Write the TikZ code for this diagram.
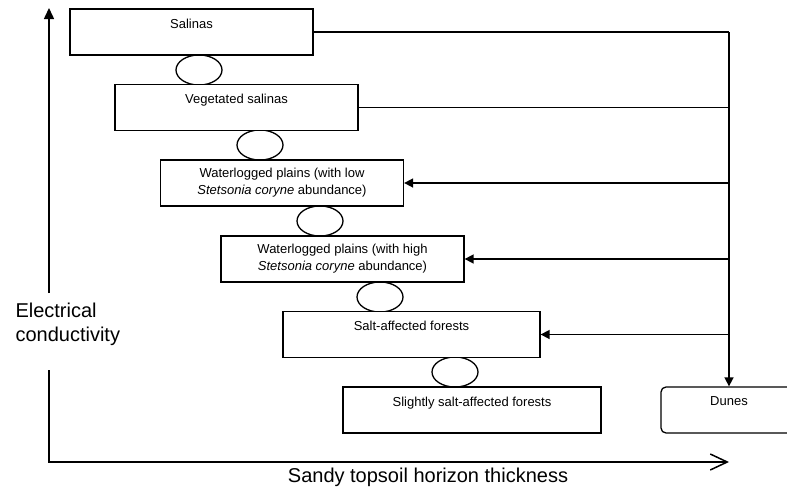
\documentclass[tikz,border=0pt]{standalone}
\usepackage{fontspec}
\setmainfont{Liberation Sans}
\usetikzlibrary{shapes.geometric, arrows.meta, positioning}

\begin{document}
\begin{tikzpicture}[
    x=1pt, y=-1pt,
    unit/.style={rectangle, draw, fill=white, line width=1.3pt, minimum width=243pt, minimum height=46pt, align=center, inner sep=0pt, font=\fontsize{13}{17}\selectfont},
    transit/.style={ellipse, draw, line width=1.3pt, minimum width=46pt, minimum height=30pt, inner sep=0pt},
    link/.style={line width=1.6pt},
    arrow/.style={-{Triangle[length=9pt, width=9pt]}, line width=1.6pt},
    axis/.style={line width=1.5pt},
    axislabel/.style={align=left, font=\fontsize{20}{24}\selectfont}
]
    \useasboundingbox (0,0) rectangle (787,490);
    \clip (0,0) rectangle (787,490);

    % transitions between neighbouring units
    \node[transit] (t1) at (199,70) {};
    \node[transit] (t2) at (260,145) {};
    \node[transit] (t3) at (320,221) {};
    \node[transit] (t4) at (380,297) {};
    \node[transit] (t5) at (455,372) {};

    % landscape units
    \node[unit] (sal) at (191.5,32) {Salinas\\~};
    \node[unit] (veg) at (236.5,107.5) {Vegetated salinas\\~};
    \node[unit] (wlow) at (282,183) {Waterlogged plains (with low\\\textit{Stetsonia coryne} abundance)};
    \node[unit] (whigh) at (342.5,259) {Waterlogged plains (with high\\\textit{Stetsonia coryne} abundance)};
    \node[unit, minimum width=257pt] (saf) at (411.5,334.5) {Salt-affected forests\\~};
    \node[unit, minimum width=258pt] (slight) at (472,410) {Slightly salt-affected forests\\~};
    \node[unit, rounded corners=5pt, minimum width=136pt] (dunes) at (729,410) {Dunes\\~};

    % sand input
    \coordinate (trunk) at (729,32);
    \draw[link] (sal.east) -- (trunk);
    \draw[link] (veg.east) -- (veg.east -| trunk);
    \draw[arrow] (trunk) -- (dunes.north);
    \draw[arrow] (wlow.east -| trunk) -- (wlow.east);
    \draw[arrow] (whigh.east -| trunk) -- (whigh.east);
    \draw[arrow] (saf.east -| trunk) -- (saf.east);

    % axes
    \coordinate (origin) at (49,462);
    \coordinate (ytop) at (49,8);
    \coordinate (xend) at (729,462);
    \draw[axis, -{Triangle[length=11pt, width=10pt]}] (49,293) -- (ytop);
    \draw[axis, -{Straight Barb[length=17pt, width=16pt]}] (49,370) -- (origin) -- (xend);
    \node[axislabel, anchor=west] (ylab) at (12,324) {Electrical\\conductivity};
    \node[axislabel] (xlab) at (428,477) {Sandy topsoil horizon thickness};
\end{tikzpicture}
\end{document}
